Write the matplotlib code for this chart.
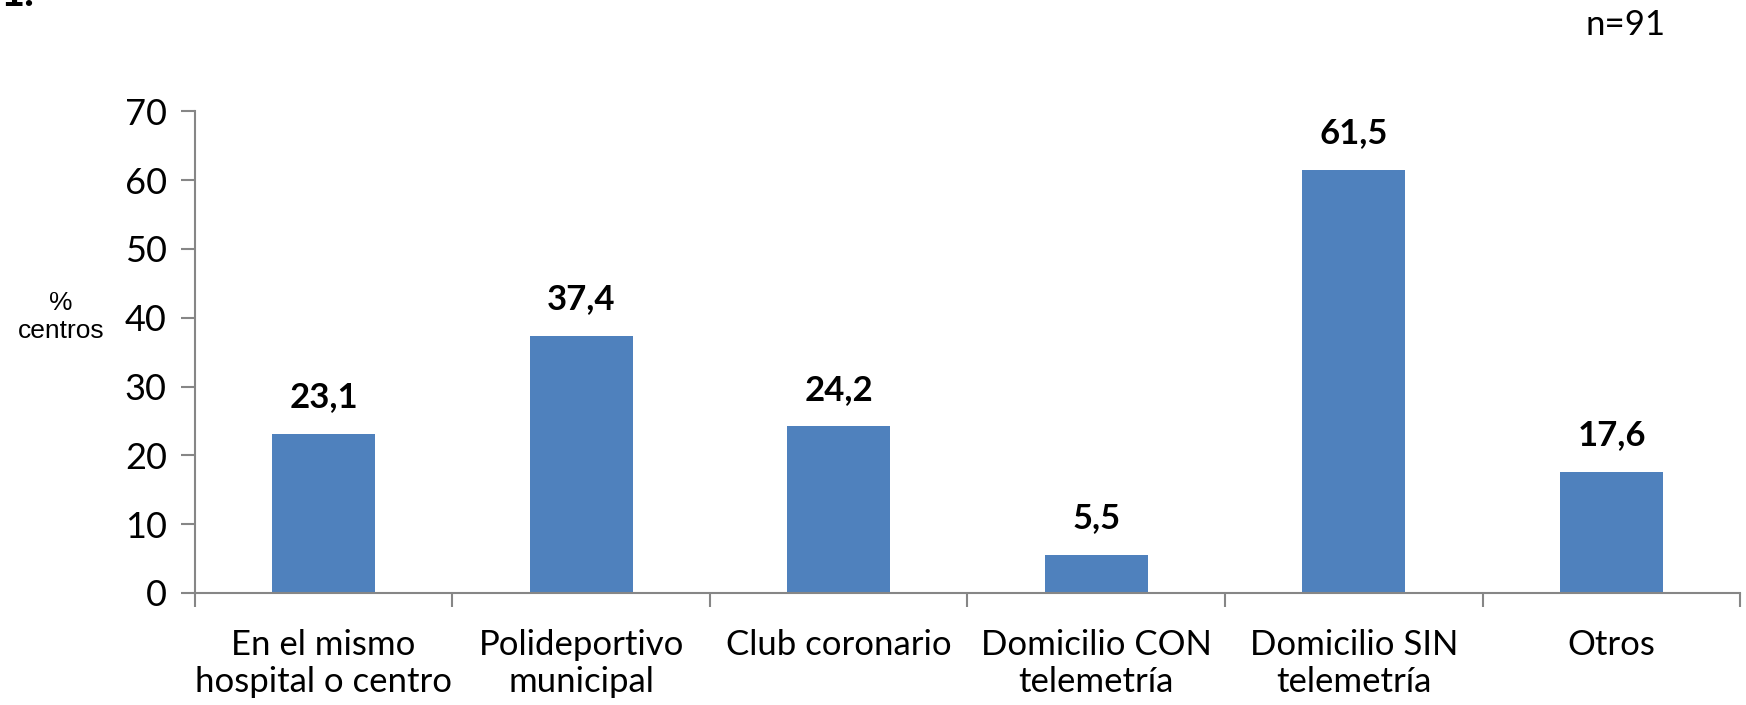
import matplotlib.pyplot as plt

categorias = ["En el mismo\nhospital o centro", "Polideportivo\nmunicipal", "Club coronario",
              "Domicilio CON\ntelemetría", "Domicilio SIN\ntelemetría", "Otros"]
porcentajes = [23.1, 37.4, 24.2, 5.5, 61.5, 17.6]
etiquetas = ["23,1", "37,4", "24,2", "5,5", "61,5", "17,6"]
yticks = [0, 10, 20, 30, 40, 50, 60, 70]

fuente = "Lato"
gris = "#868686"

fig = plt.figure(figsize=(17.46, 7.05), dpi=100)
ax = fig.add_axes([0.1115, 0.159, 0.8852, 0.683])

x = range(len(categorias))
ax.bar(x, porcentajes, width=0.40, color="#4F81BD", zorder=2)
for xi, v, t in zip(x, porcentajes, etiquetas):
    ax.text(xi, v + 3.0, t, ha="center", va="bottom", fontsize=25,
            fontweight="bold", family=fuente)

ax.set_xlim(-0.5, len(categorias) - 0.5)
ax.set_ylim(0, 70)
ax.set_yticks(yticks)
ax.set_yticklabels([str(t) for t in yticks], fontsize=26, family=fuente)
ax.set_xticks(list(x))
ax.set_xticklabels(categorias, fontsize=25, family=fuente, linespacing=1.2)
ax.set_xticks([i + 0.5 for i in range(-1, len(categorias))], minor=True)
ax.tick_params(axis="x", which="major", length=0, pad=26)
ax.tick_params(axis="x", which="minor", length=10, color=gris, width=1.5, direction="out")
ax.tick_params(axis="y", length=10, color=gris, width=1.5, pad=10)

for s in ["top", "right"]:
    ax.spines[s].set_visible(False)
for s in ["left", "bottom"]:
    ax.spines[s].set_color(gris)
    ax.spines[s].set_linewidth(1.5)

fig.text(0.035, 0.55, "%\ncentros", ha="center", va="center", fontsize=19,
         family="Liberation Sans", linespacing=1.2)
fig.text(0.931, 0.965, "n=91", ha="center", va="center", fontsize=25, family=fuente)
fig.text(0.0, 1 - 6 / 705, "1.", ha="left", va="baseline", fontsize=30,
         fontweight="bold", family=fuente)

fig.savefig("out.png", dpi=100)
